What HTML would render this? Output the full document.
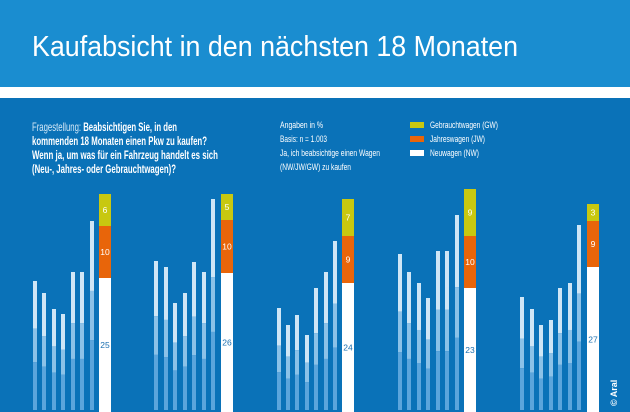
<!DOCTYPE html>
<html><head><meta charset="utf-8"><style>
html,body{margin:0;padding:0;width:630px;height:412px;overflow:hidden;background:#0a72b8}
svg{display:block;font-family:"Liberation Sans",sans-serif}
</style></head><body>
<svg id="s" width="630" height="412" viewBox="0 0 630 412" xmlns="http://www.w3.org/2000/svg">
<rect x="0" y="0" width="630" height="87" fill="#1a8dd0"/>
<rect x="0" y="87" width="630" height="11" fill="#ffffff"/>
<rect x="0" y="98" width="630" height="314" fill="#0a72b8"/>
<text x="32" y="56" font-size="29" fill="#fff" textLength="486" lengthAdjust="spacingAndGlyphs">Kaufabsicht in den nächsten 18 Monaten</text>
<g font-size="12" fill="#fff">
<text x="32" y="131" textLength="145" lengthAdjust="spacingAndGlyphs"><tspan fill="#d6e9f7">Fragestellung: </tspan><tspan font-weight="bold">Beabsichtigen Sie, in den</tspan></text>
<text x="32" y="145" font-weight="bold" textLength="175" lengthAdjust="spacingAndGlyphs">kommenden 18 Monaten einen Pkw zu kaufen?</text>
<text x="32" y="159" font-weight="bold" textLength="186" lengthAdjust="spacingAndGlyphs">Wenn ja, um was für ein Fahrzeug handelt es sich</text>
<text x="32" y="173" font-weight="bold" textLength="144" lengthAdjust="spacingAndGlyphs">(Neu-, Jahres- oder Gebrauchtwagen)?</text>
</g>
<g font-size="9" fill="#fff">
<text x="280" y="128" textLength="43" lengthAdjust="spacingAndGlyphs">Angaben in %</text>
<text x="280" y="142" textLength="47" lengthAdjust="spacingAndGlyphs">Basis: n = 1.003</text>
<text x="280" y="156" textLength="100" lengthAdjust="spacingAndGlyphs">Ja, ich beabsichtige einen Wagen</text>
<text x="280" y="170" textLength="71" lengthAdjust="spacingAndGlyphs">(NW/JW/GW) zu kaufen</text>
<rect x="410" y="122" width="14" height="6" fill="#c8c810"/>
<rect x="410" y="136" width="14" height="6" fill="#e8650a"/>
<rect x="410" y="150" width="14" height="6" fill="#ffffff"/>
<text x="430" y="128" textLength="68" lengthAdjust="spacingAndGlyphs">Gebrauchtwagen (GW)</text>
<text x="430" y="142" textLength="55" lengthAdjust="spacingAndGlyphs">Jahreswagen (JW)</text>
<text x="430" y="156" textLength="49" lengthAdjust="spacingAndGlyphs">Neuwagen (NW)</text>
</g>
<g id="bars"></g>
<text transform="translate(617,406) rotate(-90)" font-size="9" font-weight="bold" fill="#fff">© Aral</text>
</svg>
<script>
var groups=[
 {xs:[33,42,52,61,71,80,90],tops:[281,293,309,314,272,272,221],big:[99,194,226,278,6,10,25]},
 {xs:[154,164,173,183,192,202,211],tops:[261,267,303,293,262,272,199],big:[221,194,220,273,5,10,26]},
 {xs:[277,286,295,305,314,324,333],tops:[308,325,315,335,288,272,241],big:[342,199,236,283,7,9,24]},
 {xs:[398,407,417,426,436,445,455],tops:[254,272,283,298,251,251,215],big:[464,189,236,288,9,10,23]},
 {xs:[520,530,539,549,558,568,577],tops:[297,309,325,320,288,283,225],big:[587,204,221,267,3,9,27]}
];
var B=410,h='';
groups.forEach(function(g){
 g.xs.forEach(function(x,i){
  var t=g.tops[i],H=B-t,b1=t+0.37*H,b2=t+0.63*H;
  h+='<rect x="'+x+'" y="'+t+'" width="4" height="'+(b1-t)+'" fill="#cfe6f6"/>';
  h+='<rect x="'+x+'" y="'+b1+'" width="4" height="'+(b2-b1)+'" fill="#8cc2e8"/>';
  h+='<rect x="'+x+'" y="'+b2+'" width="4" height="'+(B-b2)+'" fill="#5ba5dc"/>';
 });
 var b=g.big,x=b[0];
 h+='<rect x="'+x+'" y="'+b[1]+'" width="12" height="'+(b[2]-b[1])+'" fill="#c8c810"/>';
 h+='<rect x="'+x+'" y="'+b[2]+'" width="12" height="'+(b[3]-b[2])+'" fill="#e8650a"/>';
 h+='<rect x="'+x+'" y="'+b[3]+'" width="12" height="'+(412-b[3])+'" fill="#ffffff"/>';
 h+='<text x="'+(x+6)+'" y="'+((b[1]+b[2])/2+3)+'" font-size="8.5" fill="#fff" text-anchor="middle">'+b[4]+'</text>';
 h+='<text x="'+(x+6)+'" y="'+((b[2]+b[3])/2+3)+'" font-size="8.5" fill="#fff" text-anchor="middle">'+b[5]+'</text>';
 h+='<text x="'+(x+6)+'" y="'+((b[3]+412)/2+3)+'" font-size="8.5" fill="#1a6fb0" text-anchor="middle">'+b[6]+'</text>';
});
document.getElementById('bars').innerHTML=h;
</script>
</body></html>
